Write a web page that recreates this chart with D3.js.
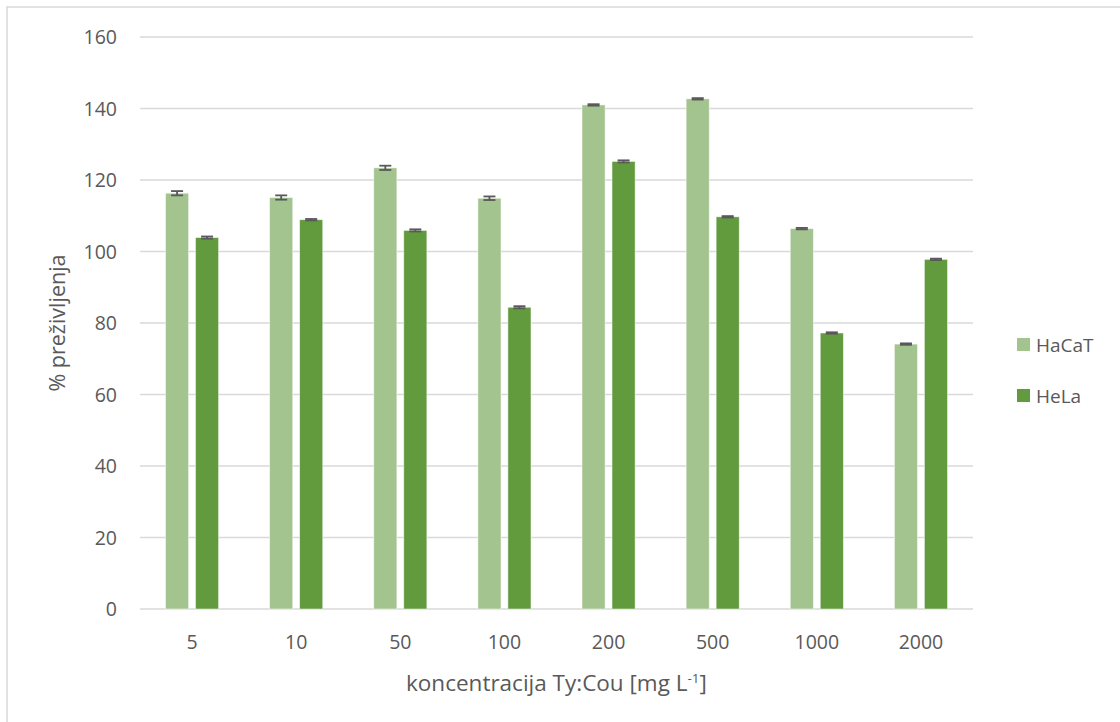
<!DOCTYPE html>
<html>
<head>
<meta charset="utf-8">
<script src="https://cdn.jsdelivr.net/npm/d3@7"></script>
<style>
  body { margin: 0; background: #fff; }
  text { font-family: "Open Sans", "Noto Sans", sans-serif; fill: #595959; }
</style>
</head>
<body>
<svg id="chart"></svg>
<script>
const categories = ['5', '10', '50', '100', '200', '500', '1000', '2000'];
const seriesNames = ['HaCaT', 'HeLa'];
const hacat = [116.3, 115.1, 123.4, 114.9, 141.0, 142.7, 106.4, 74.1];
const hela = [103.9, 108.9, 105.9, 84.4, 125.2, 109.7, 77.2, 97.8];
const hacatErr = [0.6, 0.6, 0.6, 0.5, 0.2, 0.2, 0.2, 0.2];
const helaErr = [0.3, 0.2, 0.3, 0.3, 0.3, 0.2, 0.2, 0.2];
const yTicks = [0, 20, 40, 60, 80, 100, 120, 140, 160];

const colors = ['#a3c48f', '#629a3e'];
const W = 1120, H = 722;
const margin = { top: 37, right: 147, bottom: 113, left: 140 };

const svg = d3.select('#chart').attr('width', W).attr('height', H);

// chart border (only top/left visible in the frame)
svg.append('rect')
  .attr('x', 7).attr('y', 7)
  .attr('width', W + 20).attr('height', H + 20)
  .attr('fill', 'none').attr('stroke', '#d9d9d9').attr('stroke-width', 1.5);

const x = d3.scaleBand()
  .domain(categories)
  .range([margin.left, W - margin.right])
  .paddingInner(0.49).paddingOuter(0.245);

const xs = d3.scaleBand()
  .domain(seriesNames)
  .range([0, x.bandwidth()])
  .paddingInner(0.23);

const y = d3.scaleLinear().domain([0, 160]).range([H - margin.bottom, margin.top]);

// gridlines
svg.append('g')
  .selectAll('line')
  .data(yTicks)
  .enter().append('line')
  .attr('x1', margin.left).attr('x2', W - margin.right)
  .attr('y1', d => y(d)).attr('y2', d => y(d))
  .attr('stroke', '#d9d9d9').attr('stroke-width', 1.3);

// y axis labels
const yAxis = svg.append('g')
  .attr('transform', `translate(${margin.left - 23},0)`)
  .call(d3.axisLeft(y).tickValues(yTicks).tickSize(0).tickPadding(0));
yAxis.select('.domain').remove();
yAxis.selectAll('text').style('font-size', '19.5px').attr('fill', '#595959').attr('dy', '0.35em');

// x axis labels
const xAxis = svg.append('g')
  .attr('transform', `translate(0,${H - margin.bottom})`)
  .call(d3.axisBottom(x).tickSize(0).tickPadding(26));
xAxis.select('.domain').remove();
xAxis.selectAll('text').style('font-size', '19.5px').attr('fill', '#595959');

const rows = categories.map((c, i) => ({
  cat: c,
  vals: [
    { s: 'HaCaT', v: hacat[i], e: hacatErr[i] },
    { s: 'HeLa', v: hela[i], e: helaErr[i] }
  ]
}));

const groups = svg.append('g')
  .selectAll('g')
  .data(rows)
  .enter().append('g')
  .attr('transform', d => `translate(${x(d.cat)},0)`);

groups.selectAll('rect')
  .data(d => d.vals)
  .enter().append('rect')
  .attr('x', d => xs(d.s))
  .attr('y', d => y(d.v))
  .attr('width', xs.bandwidth())
  .attr('height', d => y(0) - y(d.v))
  .attr('fill', (d, i) => colors[i])
  .attr('stroke', '#ffffff').attr('stroke-opacity', 0.6).attr('stroke-width', 0.8);

// error bars
const eb = groups.selectAll('g.err')
  .data(d => d.vals)
  .enter().append('g').attr('class', 'err')
  .attr('stroke', '#595959').attr('stroke-width', 1.8);
eb.append('line')
  .attr('x1', d => xs(d.s) + xs.bandwidth() / 2)
  .attr('x2', d => xs(d.s) + xs.bandwidth() / 2)
  .attr('y1', d => y(d.v + d.e)).attr('y2', d => y(d.v - d.e));
eb.append('line')
  .attr('x1', d => xs(d.s) + xs.bandwidth() / 2 - 6)
  .attr('x2', d => xs(d.s) + xs.bandwidth() / 2 + 6)
  .attr('y1', d => y(d.v + d.e)).attr('y2', d => y(d.v + d.e));
eb.append('line')
  .attr('x1', d => xs(d.s) + xs.bandwidth() / 2 - 6)
  .attr('x2', d => xs(d.s) + xs.bandwidth() / 2 + 6)
  .attr('y1', d => y(d.v - d.e)).attr('y2', d => y(d.v - d.e));

// axis titles
const xt = svg.append('text')
  .attr('x', (margin.left + W - margin.right) / 2)
  .attr('y', 691)
  .attr('text-anchor', 'middle')
  .style('font-size', '22.5px');
xt.append('tspan').text('koncentracija Ty:Cou [mg L');
xt.append('tspan').text('-1').attr('dy', -8).style('font-size', '13.5px');
xt.append('tspan').text(']').attr('dy', 8);

svg.append('text')
  .attr('transform', `translate(65,${(margin.top + H - margin.bottom) / 2}) rotate(-90)`)
  .attr('text-anchor', 'middle')
  .style('font-size', '21.5px')
  .text('% preživljenja');

// legend
const legend = svg.append('g')
  .selectAll('g')
  .data(seriesNames)
  .enter().append('g')
  .attr('transform', (d, i) => `translate(1017,${338 + i * 51})`);
legend.append('rect')
  .attr('width', 13).attr('height', 13)
  .attr('fill', (d, i) => colors[i]);
legend.append('text')
  .attr('x', 19).attr('y', 7).attr('dy', '0.35em')
  .style('font-size', '19px')
  .text(d => d);
</script>
</body>
</html>
